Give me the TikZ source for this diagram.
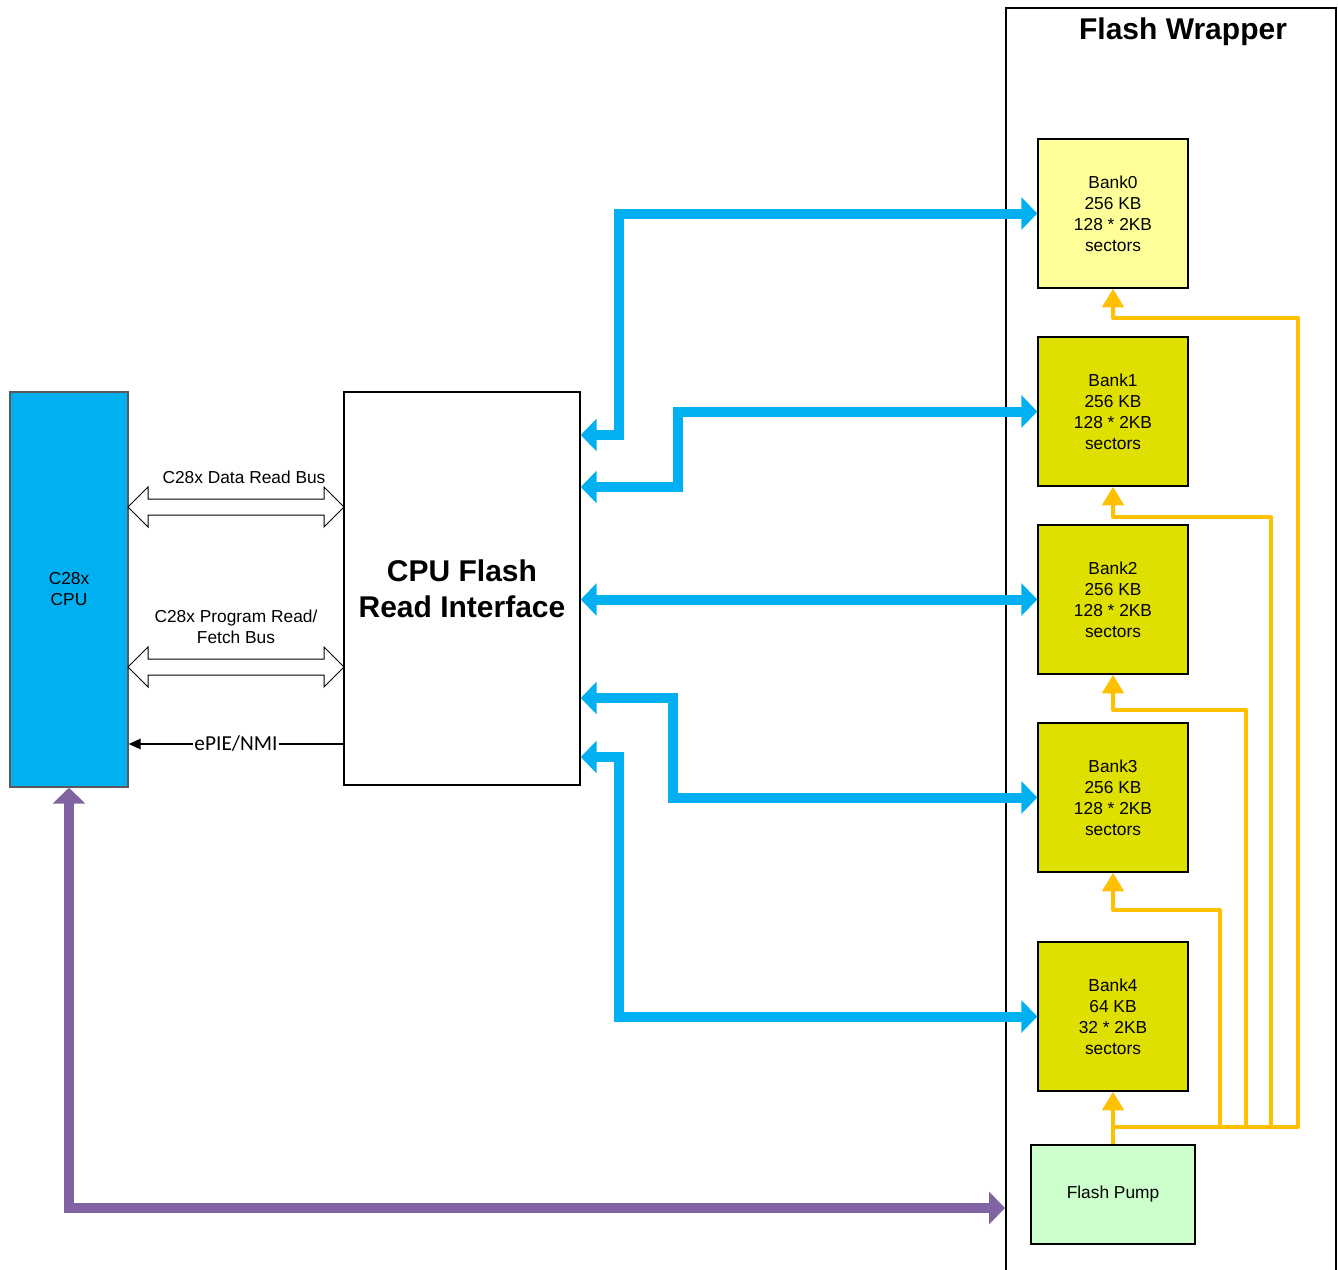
\documentclass[tikz,border=0pt]{standalone}
\usepackage{fontspec}
\setmainfont{Liberation Sans}
\newfontfamily\epiefont{Carlito}
\usepackage{tikz}
\usetikzlibrary{positioning,arrows.meta,shapes.arrows}
\definecolor{cian}{RGB}{0,176,240}
\definecolor{ambar}{RGB}{255,192,0}
\definecolor{lila}{RGB}{128,100,162}
\definecolor{bancoclaro}{RGB}{255,255,153}
\definecolor{banco}{RGB}{224,224,0}
\definecolor{bomba}{RGB}{204,255,204}
\definecolor{borde}{RGB}{89,89,89}

\begin{document}
\begin{tikzpicture}[x=0.75pt, y=-0.75pt,
  caja/.style={draw, line width=1.1pt, inner sep=0pt, align=center,
               font=\fontsize{13}{15.75}\selectfont},
  banco/.style={caja, fill=#1, minimum width=112.5pt, minimum height=111.75pt},
  ruta/.style={{Triangle[width=24pt,length=12pt]}-{Triangle[width=24pt,length=12pt]},
               line width=7.5pt, cian},
  alim/.style={-{Triangle[width=16pt,length=14pt]}, line width=3pt, ambar,
               line join=round},
  via/.style={{Triangle[width=24pt,length=12pt]}-{Triangle[width=24pt,length=12pt]},
              line width=7.5pt, lila},
  bushueco/.style={double arrow, draw, fill=white, line width=0.75pt,
                   inner xsep=0pt, inner ysep=5.625pt,
                   minimum height=162pt, minimum width=29.25pt,
                   double arrow head extend=9pt, double arrow tip angle=90},
  etiq/.style={font=\fontsize{13}{15.75}\selectfont, align=center}]
  \useasboundingbox (0,0) rectangle (1338,1270);
  % bloques
  \node[caja, fill=cian, draw=borde, minimum width=88.5pt, minimum height=296.25pt]
    (cpu) at (69,589.5) {C28x\\CPU};
  \node[caja, minimum width=177pt, minimum height=294.75pt,
        font=\fontsize{22.5}{27}\selectfont\bfseries]
    (lec) at (462,588.5) {CPU Flash\\Read Interface};
  \node[draw, line width=1.5pt, minimum width=247.5pt, minimum height=961.5pt]
    (env) at (1171,649) {};
  \node[font=\fontsize{22.5}{27}\selectfont\bfseries] (tit) at (1183,32) {Flash Wrapper};
  \node[banco=bancoclaro] (b0) at (1113,213.5)  {Bank0\\256 KB\\128 * 2KB\\sectors};
  \node[banco=banco]      (b1) at (1113,411.5)  {Bank1\\256 KB\\128 * 2KB\\sectors};
  \node[banco=banco]      (b2) at (1113,599.5)  {Bank2\\256 KB\\128 * 2KB\\sectors};
  \node[banco=banco]      (b3) at (1113,797.5)  {Bank3\\256 KB\\128 * 2KB\\sectors};
  \node[banco=banco]      (b4) at (1113,1016.5) {Bank4\\64 KB\\32 * 2KB\\sectors};
  \node[caja, fill=bomba, minimum width=123pt, minimum height=74.25pt]
    (pump) at (1113,1194.5) {Flash Pump};
  % buses de la CPU
  \node[bushueco] (bdat) at (236,507) {};
  \node[bushueco] (bprg) at (236,667) {};
  \node[etiq] at (244,477) {C28x Data Read Bus};
  \node[etiq] at (236,627) {C28x Program Read/\\Fetch Bus};
  \draw[-{Triangle[length=9pt,width=8pt]}, line width=0.9pt] (lec.west |- 0,744) -- (cpu.east |- 0,744)
    node[midway, fill=white, inner sep=1pt, font=\epiefont\fontsize{16}{19}\selectfont] {ePIE/NMI};
  % rutas de lectura
  \draw[ruta] (lec.east |- 0,435) -- (619,435) |- (b0.west);
  \draw[ruta] (lec.east |- 0,487) -- (678,487) |- (b1.west);
  \draw[ruta] (lec.east |- b2.west) -- (b2.west);
  \draw[ruta] (lec.east |- 0,698) -- (673,698) |- (b3.west);
  \draw[ruta] (lec.east |- 0,757) -- (619,757) |- (b4.west);
  \draw[via] (cpu.south) |- (env.west |- 0,1208);
  % alimentacion de la bomba
  \coordinate (t0) at (1298,1127);
  \coordinate (t1) at (1271,1127);
  \coordinate (t2) at (1246,1127);
  \coordinate (t3) at (1220,1127);
  \draw[alim] (pump.north) -- (b4.south);
  \draw[alim] (pump.north |- t0) -- (t0) -- (t0 |- 0,318) -| (b0.south);
  \draw[alim] (t1) -- (t1 |- 0,517) -| (b1.south);
  \draw[alim] (t2) -- (t2 |- 0,710) -| (b2.south);
  \draw[alim] (t3) -- (t3 |- 0,910) -| (b3.south);
\end{tikzpicture}
\end{document}
